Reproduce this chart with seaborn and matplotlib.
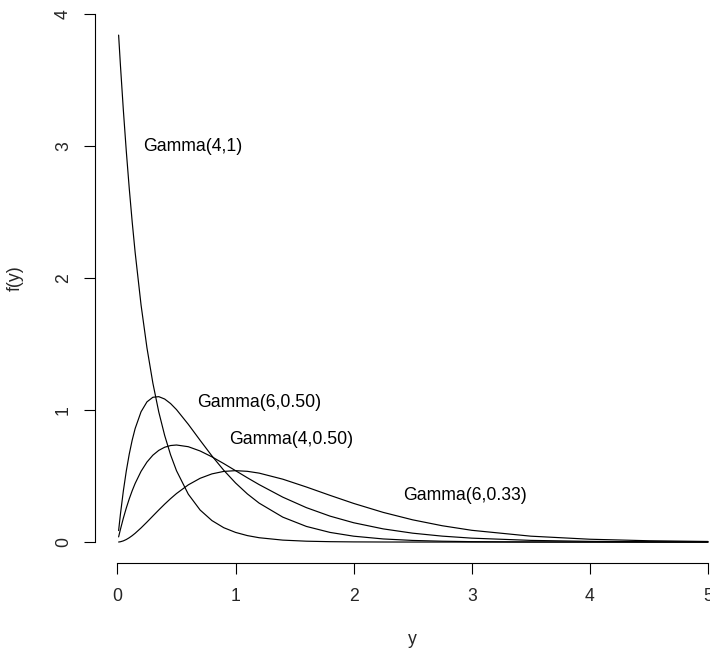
import matplotlib
matplotlib.use("Agg")
import matplotlib.pyplot as plt
import seaborn as sns
import pandas as pd

# x grid
y_grid = [0.01, 0.025, 0.05, 0.075, 0.1, 0.125, 0.15, 0.2, 0.25, 0.3, 0.35, 0.4, 0.45,
          0.5, 0.6, 0.7, 0.8, 0.9, 1.0, 1.1, 1.2, 1.4, 1.6, 1.8, 2.0, 2.25, 2.5, 2.75,
          3.0, 3.5, 4.0, 4.5, 5.0]

# density values
f_gamma_4_1 = [3.843, 3.619, 3.275, 2.963, 2.681, 2.426, 2.195, 1.797, 1.472, 1.205, 0.986,
               0.808, 0.661, 0.541, 0.363, 0.243, 0.163, 0.109, 0.0733, 0.0491, 0.0329,
               0.0148, 0.0066, 0.0030, 0.0013, 0.0005, 0.0002, 0.0001, 0.0, 0.0, 0.0, 0.0, 0.0]
f_gamma_6_050 = [0.0873, 0.2087, 0.3873, 0.5390, 0.6667, 0.7732, 0.8608, 0.9879, 1.0628,
                 1.0977, 1.1023, 1.0843, 1.0499, 1.0041, 0.8926, 0.7715, 0.6532, 0.5444,
                 0.4481, 0.3651, 0.2951, 0.1890, 0.1185, 0.0732, 0.0446, 0.0237, 0.0124,
                 0.0065, 0.0033, 0.0009, 0.0002, 0.0, 0.0]
f_gamma_4_050 = [0.0392, 0.0951, 0.1810, 0.2582, 0.3275, 0.3894, 0.4445, 0.5363, 0.6065,
                 0.6586, 0.6952, 0.7189, 0.7318, 0.7358, 0.7229, 0.6905, 0.6461, 0.5951,
                 0.5413, 0.4875, 0.4355, 0.3405, 0.2609, 0.1967, 0.1465, 0.1000, 0.0674,
                 0.0450, 0.0297, 0.0128, 0.0054, 0.0022, 0.0009]
f_gamma_6_033 = [0.0004, 0.0024, 0.0091, 0.0194, 0.0328, 0.0487, 0.0667, 0.1073, 0.1516,
                 0.1976, 0.2433, 0.2876, 0.3293, 0.3679, 0.4337, 0.4834, 0.5169, 0.5356,
                 0.5413, 0.5363, 0.5226, 0.4767, 0.4174, 0.3541, 0.2930, 0.2250, 0.1685,
                 0.1238, 0.0892, 0.0447, 0.0215, 0.0100, 0.0045]

labels = ["Gamma(4,1)", "Gamma(6,0.50)", "Gamma(4,0.50)", "Gamma(6,0.33)"]
label_x = [0.64, 1.20, 1.47, 2.94]
label_y = [3.0, 1.055, 0.78, 0.35]

x_ticks = [0, 1, 2, 3, 4, 5]
y_ticks = [0, 1, 2, 3, 4]

sns.set_style("white")
plt.rcParams["font.family"] = ["Liberation Sans", "DejaVu Sans"]

fig = plt.figure(figsize=(7.10, 6.51), dpi=100)
ax = fig.add_axes([0.1338, 0.1347, 0.8966, 0.8432])
ax.set_clip_on(False)

series = [f_gamma_4_1, f_gamma_6_050, f_gamma_4_050, f_gamma_6_033]
for name, vals in zip(labels, series):
    df = pd.DataFrame({"y": y_grid, "f": vals})
    sns.lineplot(data=df, x="y", y="f", ax=ax, color="black", linewidth=0.85,
                 estimator=None, sort=False)

for t, tx, ty in zip(labels, label_x, label_y):
    ax.text(tx, ty, t, ha="center", va="center", fontsize=12.7, color="black")

ax.set_xlim(-0.19, 5.2)
ax.set_ylim(-0.161, 3.997)
ax.set_xticks(x_ticks)
ax.set_yticks(y_ticks)
ax.set_xticklabels([str(v) for v in x_ticks], fontsize=12.7)
ax.set_yticklabels([str(v) for v in y_ticks], fontsize=12.7, rotation=90, va="center")

for s in ["top", "right"]:
    ax.spines[s].set_visible(False)
ax.spines["left"].set_bounds(0, 4)
ax.spines["bottom"].set_bounds(0, 5)
for s in ["left", "bottom"]:
    ax.spines[s].set_color("black")
    ax.spines[s].set_linewidth(0.8)
    ax.spines[s].set_clip_on(False)

ax.tick_params(axis="both", direction="out", length=7.6, width=0.8, color="black",
               left=True, bottom=True)
ax.tick_params(axis="x", pad=10.5)
ax.tick_params(axis="y", pad=9.0)

ax.set_xlabel("")
ax.set_ylabel("")
fig.text(412.7 / 710, 1 - 639 / 651, "y", ha="center", va="center", fontsize=12.7)
fig.text(15 / 710, 1 - 278 / 651, "f(y)", ha="center", va="center", fontsize=12.7,
         rotation=90)

fig.savefig("out.png", dpi=100)
